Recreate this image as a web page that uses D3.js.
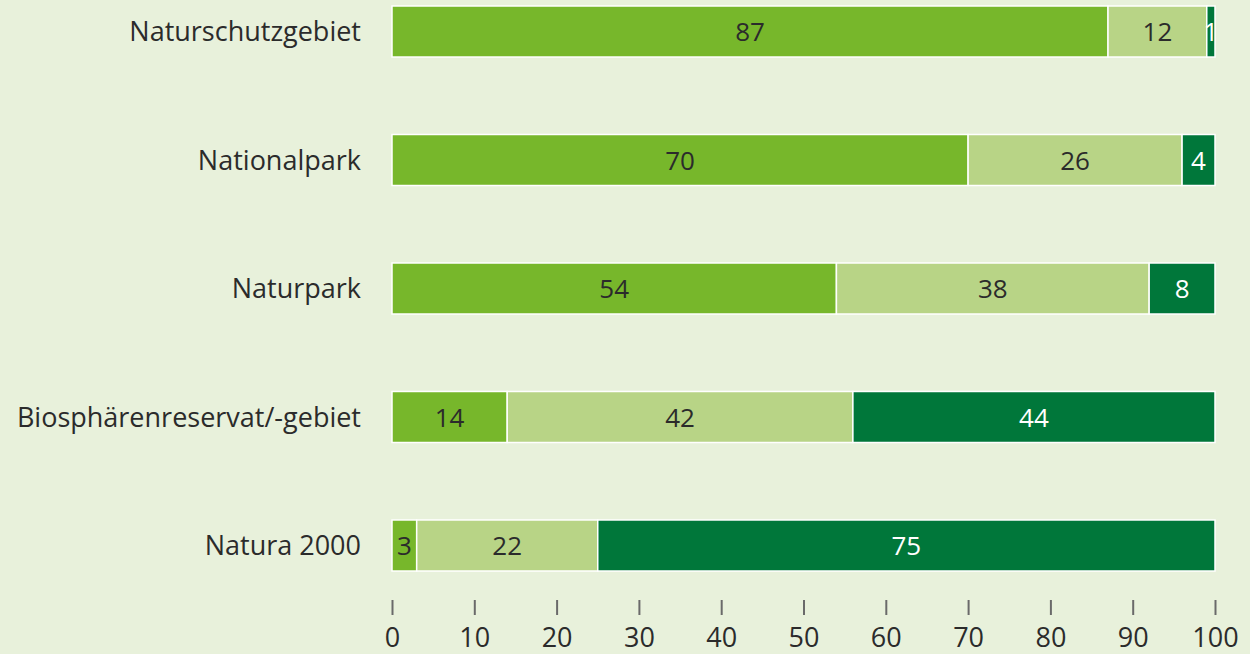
<!DOCTYPE html>
<html>
<head>
<meta charset="utf-8">
<script src="https://cdn.jsdelivr.net/npm/d3@7"></script>
<style>
  body { margin: 0; background: #e8f1db; }
  svg { display: block; font-family: "Open Sans", "Noto Sans", sans-serif; }
</style>
</head>
<body>
<div id="chart"></div>
<script>
  // data
  var categories = ["Naturschutzgebiet", "Nationalpark", "Naturpark", "Biosphärenreservat/-gebiet", "Natura 2000"];
  var seriesA = [87, 70, 54, 14, 3];
  var seriesB = [12, 26, 38, 42, 22];
  var seriesC = [1, 4, 8, 44, 75];
  var tickValues = [0, 10, 20, 30, 40, 50, 60, 70, 80, 90, 100];

  var colors = ["#77b72b", "#b8d486", "#00773a"];
  var textColors = ["#2b2b2b", "#2b2b2b", "#ffffff"];

  var svgWidth = 1250;
  var svgHeight = 654;

  var svg = d3.select("#chart")
    .append("svg")
    .attr("width", svgWidth)
    .attr("height", svgHeight);

  svg.append("rect")
    .attr("width", svgWidth)
    .attr("height", svgHeight)
    .attr("fill", "#e8f1db");

  var xScale = d3.scaleLinear()
    .domain([0, 100])
    .range([392, 1215]);

  var yScale = d3.scaleBand()
    .domain(categories)
    .range([6, 571])
    .paddingInner(0.603)
    .paddingOuter(0);

  // build stacked rows
  var rows = categories.map(function(c, i) {
    return { cat: c, a: seriesA[i], b: seriesB[i], c: seriesC[i] };
  });
  var stacked = d3.stack().keys(["a", "b", "c"])(rows);

  var layers = svg.selectAll("g.layer")
    .data(stacked)
    .enter()
    .append("g")
    .attr("class", "layer");

  layers.selectAll("rect")
    .data(function(d) { return d; })
    .enter()
    .append("rect")
    .attr("x", d => xScale(d[0]))
    .attr("y", d => yScale(d.data.cat))
    .attr("width", d => xScale(d[1]) - xScale(d[0]))
    .attr("height", yScale.bandwidth())
    .attr("fill", function() { return colors[d3.select(this.parentNode).datum().index]; })
    .attr("stroke", "#ffffff")
    .attr("stroke-width", 1.5);

  layers.selectAll("text")
    .data(function(d) { return d; })
    .enter()
    .append("text")
    .attr("x", d => (xScale(d[0]) + xScale(d[1])) / 2)
    .attr("y", d => yScale(d.data.cat) + yScale.bandwidth() / 2)
    .attr("dy", "0.37em")
    .attr("text-anchor", "middle")
    .attr("font-size", "26px")
    .attr("fill", function() { return textColors[d3.select(this.parentNode).datum().index]; })
    .text(d => d[1] - d[0]);

  // category labels
  svg.selectAll("text.cat")
    .data(categories)
    .enter()
    .append("text")
    .attr("class", "cat")
    .attr("x", 361)
    .attr("y", d => yScale(d) + yScale.bandwidth() / 2)
    .attr("dy", "0.37em")
    .attr("text-anchor", "end")
    .attr("font-size", "27px")
    .attr("fill", "#2b2b2b")
    .text(d => d);

  // x axis
  var xAxis = d3.axisBottom(xScale)
    .tickValues(tickValues)
    .tickSize(15)
    .tickPadding(13);

  var axisG = svg.append("g")
    .attr("transform", "translate(0, 600)")
    .call(xAxis);

  axisG.select(".domain").remove();
  axisG.selectAll(".tick line")
    .attr("stroke", "#6a6a6a")
    .attr("stroke-width", 2);
  axisG.selectAll(".tick text")
    .attr("font-size", "27px")
    .attr("font-family", "\"Open Sans\", \"Noto Sans\", sans-serif")
    .attr("fill", "#2b2b2b");
</script>
</body>
</html>
